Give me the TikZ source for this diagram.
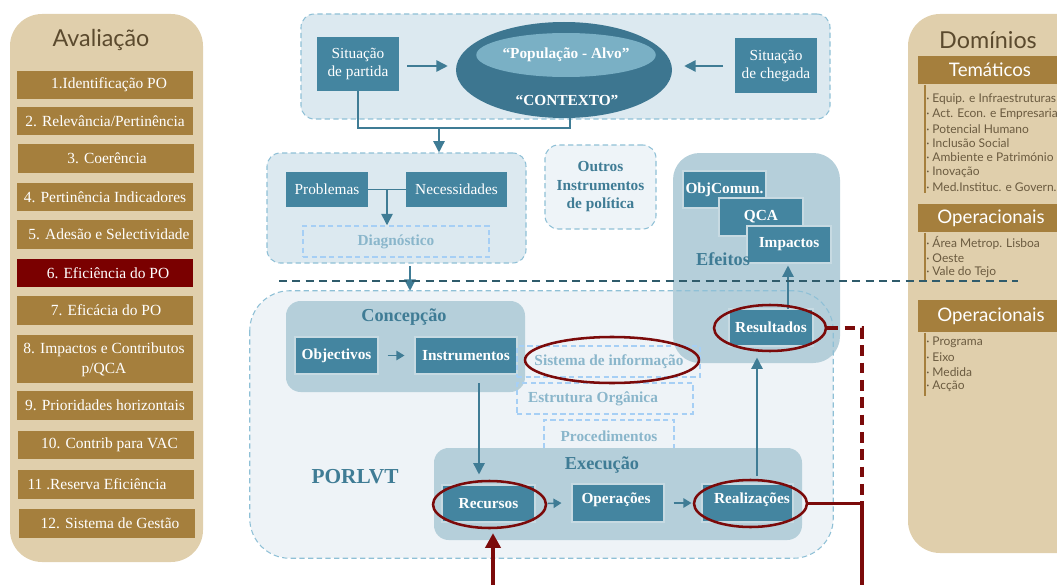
\documentclass[tikz,border=0pt]{standalone}
\usepackage{fontspec}
\setmainfont{Liberation Serif}
\newfontfamily\humsans{Lato}
\usetikzlibrary{shapes.geometric,arrows.meta,calc}
\newdimen\pxu \pxu=0.75pt
\definecolor{beige}{HTML}{E0CFAC}
\definecolor{gold}{HTML}{A57F3D}
\definecolor{wine}{HTML}{7A0000}
\definecolor{boxteal}{HTML}{4485A0}
\definecolor{ctxdark}{HTML}{3D7690}
\definecolor{ctxlight}{HTML}{7AB0C5}
\definecolor{grpfill}{HTML}{DCE9F0}
\definecolor{grpline}{HTML}{8FC0D6}
\definecolor{porfill}{HTML}{EEF3F7}
\definecolor{outfill}{HTML}{EEF4F8}
\definecolor{subfill}{HTML}{B5CFDA}
\definecolor{tealtxt}{HTML}{3F7C95}
\definecolor{palettxt}{HTML}{8AB6CB}
\definecolor{paleline}{HTML}{A6CFF5}
\definecolor{darkdash}{HTML}{2F5B6B}
\definecolor{redline}{HTML}{7B0A0A}
\definecolor{browntxt}{HTML}{5B4A2E}
\definecolor{itemtxt}{HTML}{6B5B40}
\begin{document}
\begin{tikzpicture}[x=0.75pt,y=-0.75pt,
  panel/.style={fill=beige, rounded corners=24pt},
  ptitle/.style={text=browntxt, font=\humsans\fontsize{17.5pt}{20pt}\selectfont, inner sep=0},
  btn/.style={fill=gold, inner sep=0, minimum width=176\pxu},
  btntxt/.style={text=white, font=\fontsize{11.6pt}{15pt}\selectfont, align=center, inner sep=0},
  hbar/.style={fill=gold, inner sep=0, anchor=north west, minimum width=160\pxu},
  hbartxt/.style={text=white, font=\humsans\fontsize{14pt}{16pt}\selectfont, inner sep=0},
  item/.style={text=itemtxt, font=\humsans\fontsize{9pt}{10pt}\selectfont, inner sep=0, anchor=west},
  listbar/.style={draw=gold, line width=1.1pt},
  tbox/.style={fill=boxteal, inner sep=0, text=white, font=\fontsize{11.5pt}{13.5pt}\selectfont, align=center},
  bbox/.style={tbox, draw=white!70!boxteal, line width=0.8pt, font=\bfseries\fontsize{11.5pt}{13.5pt}\selectfont},
  grp/.style={fill=grpfill, draw=grpline, dash pattern=on 4pt off 2.5pt, line width=0.8pt, rounded corners=10pt, inner sep=0},
  sub/.style={fill=subfill, rounded corners=11pt, inner sep=0},
  pale/.style={draw=paleline, dash pattern=on 4pt off 2.5pt, line width=1.1pt, inner sep=0},
  paletxt/.style={text=palettxt, font=\bfseries\fontsize{11.5pt}{13.5pt}\selectfont, inner sep=0},
  hdr/.style={text=tealtxt, font=\bfseries\fontsize{13.7pt}{16pt}\selectfont, inner sep=0},
  arr/.style={draw=tealtxt, line width=1.1pt, -{Triangle[length=8.5pt,width=8.5pt]}},
  sarr/.style={draw=tealtxt, line width=1.1pt, -{Triangle[length=6pt,width=7pt]}},
  ln/.style={draw=tealtxt, line width=1.1pt},
  redell/.style={ellipse, draw=redline, line width=1.9pt, inner sep=0},
  redln/.style={draw=redline, line width=2.3pt},
  reddash/.style={redln, dash pattern=on 8pt off 5pt},
  redarr/.style={redln, -{Triangle[length=11pt,width=11.5pt]}}
]
\useasboundingbox (0,0) rectangle (1057,585);

% ---------- left panel ----------
\fill[panel] (10,14) rectangle (203,562);
\node[ptitle] (avt) at (101,40) {Avaliação};
\node[btn, minimum height=28\pxu] (b1) at (105,85) {};
\node[btntxt] (t1) at (109,85) {1.Identificação PO};
\node[btn, minimum height=28\pxu] (b2) at (105,121) {};
\node[btntxt] (t2) at (105,121) {2. Relevância/Pertinência};
\node[btn, minimum height=29\pxu] (b3) at (106,158.5) {};
\node[btntxt] (t3) at (107,158.5) {3. Coerência};
\node[btn, minimum height=28\pxu] (b4) at (105,197) {};
\node[btntxt] (t4) at (105,197) {4. Pertinência Indicadores};
\node[btn, minimum height=29\pxu] (b5) at (105,234.5) {};
\node[btntxt] (t5) at (109,234.5) {5. Adesão e Selectividade};
\node[btn, fill=wine, minimum height=28\pxu] (b6) at (105,273) {};
\node[btntxt] (t6) at (108,273) {6. Eficiência do PO};
\node[btn, minimum height=29\pxu] (b7) at (105,310.5) {};
\node[btntxt] (t7) at (106,310.5) {7. Eficácia do PO};
\node[btn, minimum height=48\pxu] (b8) at (105,359) {};
\node[btntxt] (t8) at (104,360) {8. Impactos e Contributos\\p/QCA};
\node[btn, minimum height=29\pxu] (b9) at (105,405.5) {};
\node[btntxt] (t9) at (105,405.5) {9. Prioridades horizontais};
\node[btn, minimum height=28\pxu] (b10) at (106,445) {};
\node[btntxt] (t10) at (109.5,445) {10. Contrib para VAC};
\node[btn, minimum height=29\pxu] (b11) at (106,484.5) {};
\node[btntxt] (t11) at (97,484.5) {11 .Reserva Eficiência};
\node[btn, minimum height=29\pxu] (b12) at (107,523.5) {};
\node[btntxt] (t12) at (110,523.5) {12. Sistema de Gestão};

% ---------- right panel ----------
\fill[panel] (908,14) rectangle (1130,553);
\node[ptitle] (dom) at (988,40) {Domínios};
\node[hbar, minimum height=28\pxu] (tem) at (918,56) {};
\node[hbartxt] (temt) at (990,70) {Temáticos};
\draw[listbar] (tem.south west) ++(7,0) coordinate (l1a) -- (925,193) coordinate (l1b);
\node[item] (i1) at (926,99) {· Equip. e Infraestruturas};
\node[item] (i2) at (926,114) {· Act. Econ. e Empresarial};
\node[item] (i3) at (926,129) {· Potencial Humano};
\node[item] (i4) at (926,143) {· Inclusão Social};
\node[item] (i5) at (926,157) {· Ambiente e Património};
\node[item] (i6) at (926,172) {· Inovação};
\node[item] (i7) at (926,187) {· Med.Instituc. e Govern.};
\node[hbar, minimum height=28\pxu] (op1) at (918,204) {};
\node[hbartxt] (op1t) at (991,218) {Operacionais};
\draw[listbar] (op1.south west) ++(7,0) coordinate (l2a) -- (925,280) coordinate (l2b);
\node[item] (j1) at (926,243) {· Área Metrop. Lisboa};
\node[item] (j2) at (926,258) {· Oeste};
\node[item] (j3) at (926,272) {· Vale do Tejo};
\node[hbar, minimum height=32\pxu] (op2) at (918,300) {};
\node[hbartxt] (op2t) at (991,316) {Operacionais};
\draw[listbar] (op2.south west) ++(7,0) coordinate (l3a) -- (925,396) coordinate (l3b);
\node[item] (k1) at (926,342) {· Programa};
\node[item] (k2) at (926,357) {· Eixo};
\node[item] (k3) at (926,372) {· Medida};
\node[item] (k4) at (926,386) {· Acção};

% ---------- top group ----------
\node[grp, minimum width=529\pxu, minimum height=105\pxu] (g1) at (565.5,66.5) {};
\node[tbox, minimum width=82\pxu, minimum height=54\pxu] (partida) at (358,64) {Situação\\de partida};
\node[tbox, minimum width=82\pxu, minimum height=55\pxu] (chegada) at (776,65.5) {Situação\\de chegada};
\node[ellipse, fill=ctxdark, inner sep=0, minimum width=216\pxu, minimum height=96\pxu] (ctx) at (564,70) {};
\node[ellipse, fill=ctxlight, inner sep=0, minimum width=167\pxu, minimum height=44\pxu, text=white, font=\bfseries\fontsize{11.5pt}{13.5pt}\selectfont] (pop) at (566,55) {“População - Alvo”};
\node[text=white, font=\bfseries\fontsize{11.5pt}{13.5pt}\selectfont, inner sep=0] (ctxt) at (567,100) {“CONTEXTO”};
\coordinate (pa) at (407,66);
\coordinate (ca) at (723,66);
\draw[arr] (pa) -- ([xshift=-8\pxu]pa -| ctx.west);
\draw[arr] (ca) -- ([xshift=12\pxu]ca -| ctx.east);
\coordinate (jn) at (439,128);
\draw[ln] (partida.south) |- (jn) -| ([xshift=6\pxu]ctx.south);

% ---------- problem group ----------
\node[grp, minimum width=259\pxu, minimum height=110\pxu] (g2) at (396.5,208) {};
\draw[arr] (jn) -- (jn |- g2.north);
\node[tbox, minimum width=82\pxu, minimum height=35\pxu] (prob) at (327,189.5) {Problemas};
\node[tbox, minimum width=101\pxu, minimum height=35\pxu] (nec) at (456.5,189.5) {Necessidades};
\node[pale, minimum width=186\pxu, minimum height=31\pxu] (diag) at (396,241.5) {};
\node[paletxt] (diagt) at (396,241.5) {Diagnóstico};
\draw[ln] (prob.east) -- (nec.west);
\coordinate (pn) at (387,189.5);
\draw[arr] (pn) -- (pn |- diag.north);

% ---------- outros ----------
\node[grp, fill=outfill, minimum width=111\pxu, minimum height=84\pxu, text=tealtxt, align=center, font=\bfseries\fontsize{11.5pt}{13.9pt}\selectfont] (outros) at (600.5,187) {Outros\\Instrumentos\\de política};

% ---------- PORLVT group ----------
\node[fill=porfill, rounded corners=30pt, inner sep=0, minimum width=583\pxu, minimum height=267\pxu] (porl) at (541.5,424.5) {};
\node[fill=subfill, rounded corners=20pt, inner sep=0, minimum width=167\pxu, minimum height=210\pxu] (efe) at (756.5,258) {};
\draw[draw=grpline, dash pattern=on 4pt off 2.5pt, line width=0.8pt, rounded corners=30pt] (porl.north west) rectangle (porl.south east);
\coordinate (d1) at (410,266);
\draw[arr] (d1) -- (d1 |- porl.north);
\node[text=tealtxt, font=\bfseries\fontsize{16pt}{18pt}\selectfont, inner sep=0] (porlt) at (355,477) {PORLVT};

% Efeitos
\node[bbox, minimum width=83\pxu, minimum height=37\pxu] (objc) at (724.5,189.5) {ObjComun.};
\node[bbox, minimum width=84\pxu, minimum height=38\pxu] (qca) at (761,217) {QCA};
\node[bbox, minimum width=84\pxu, minimum height=37\pxu] (imp) at (789,244.5) {Impactos};
\node[hdr] (efet) at (723,259) {Efeitos};
\node[bbox, minimum width=84\pxu, minimum height=37\pxu] (res) at (771,327.5) {Resultados};

% Concepcao
\node[sub, minimum width=239\pxu, minimum height=91\pxu] (conc) at (405.5,346.5) {};
\node[hdr] (conct) at (404,317) {Concepção};
\node[bbox, minimum width=83\pxu, minimum height=37\pxu] (obj) at (336.5,355.5) {Objectivos};
\node[bbox, minimum width=102\pxu, minimum height=37\pxu] (ins) at (466,355.5) {Instrumentos};
\draw[sarr] ([xshift=9\pxu]obj.east) -- ([xshift=-10\pxu]ins.west);

% pale dashed boxes
\node[pale, minimum width=183\pxu, minimum height=31\pxu] (sist) at (608.5,361.5) {};
\node[paletxt] (sistt) at (609,362) {Sistema de informação};
\node[pale, minimum width=176\pxu, minimum height=31\pxu] (estr) at (605,398.5) {};
\node[paletxt] (estrt) at (593,399) {Estrutura Orgânica};
\node[pale, minimum width=130\pxu, minimum height=29\pxu] (proc) at (609,434.5) {};
\node[paletxt] (proct) at (609,436) {Procedimentos};

% Execucao
\node[sub, minimum width=368\pxu, minimum height=92\pxu] (exe) at (618,494) {};
\node[hdr] (exet) at (602,465) {Execução};
\node[bbox, minimum width=93\pxu, minimum height=37\pxu] (rec) at (488.5,503.5) {Recursos};
\node[bbox, minimum width=92\pxu, minimum height=38\pxu] (ope) at (618,503) {};
\node[text=white, font=\bfseries\fontsize{11.5pt}{13.5pt}\selectfont, inner sep=0] (opet) at (616,500) {Operações};
\node[bbox, minimum width=91\pxu, minimum height=38\pxu] (rea) at (747.5,503) {};
\node[text=white, font=\bfseries\fontsize{11.5pt}{13.5pt}\selectfont, inner sep=0] (reat) at (752,500) {Realizações};
\draw[sarr] ([xshift=12\pxu]rec.east) -- ([xshift=-10\pxu]ope.west);
\draw[sarr] ([xshift=9\pxu]ope.east) -- ([xshift=-10\pxu]rea.west);

% teal connectors
\coordinate (ic) at (479,383);
\draw[arr] (ic) -- ([yshift=10\pxu]ic |- rec.north);
\coordinate (rc) at (757,476);
\draw[arr] (rc) -- ([yshift=-11\pxu]rc |- res.south);
\coordinate (rs) at (788,309);
\draw[arr] (rs) -- ([yshift=-2\pxu]rs |- imp.south);

% dark dashed divider
\coordinate (dl1) at (279,281);
\coordinate (dl2) at (1018,281);
\draw[darkdash, line width=1.6pt, dash pattern=on 6pt off 4pt] (dl1) -- (dl2);

% red ellipses
\node[redell, minimum width=112\pxu, minimum height=46\pxu] (eres) at (770,328) {};
\node[redell, minimum width=174\pxu, minimum height=46\pxu] (esis) at (612,360) {};
\node[redell, minimum width=113\pxu, minimum height=47\pxu] (erec) at (489.5,504.5) {};
\node[redell, minimum width=113\pxu, minimum height=47\pxu] (erea) at (750.5,503.5) {};

% red connectors
\coordinate (rj) at (862,503.5);
\coordinate (rb) at (862,585);
\coordinate (ra) at (493,585);
\draw[reddash] (eres.east) -| (rj);
\draw[redln] (erea.east) -- (rj) -- (rb);
\draw[redarr] (ra) -- ([yshift=-4\pxu]ra |- erec.south);
\end{tikzpicture}
\end{document}
